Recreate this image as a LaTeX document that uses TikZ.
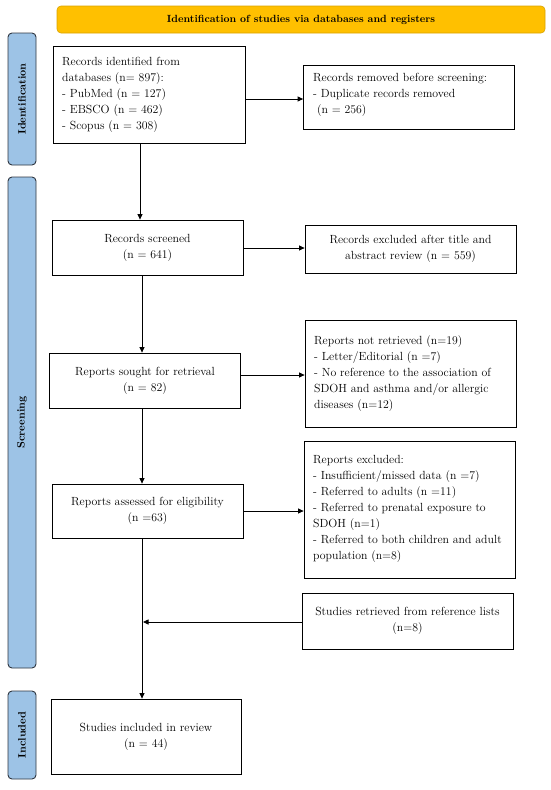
\documentclass[tikz,border=0pt]{standalone}
\usetikzlibrary{arrows.meta}
\definecolor{gold}{HTML}{FFC000}
\definecolor{goldline}{HTML}{D9A300}
\definecolor{sideblue}{HTML}{9DC3E6}
\definecolor{sideline}{HTML}{2F3640}
\begin{document}
\begin{tikzpicture}[x=1pt,y=-1pt,
  box/.style={draw=black,line width=0.8pt,fill=white,inner sep=0pt,
    font=\fontsize{11.8}{16}\selectfont},
  btext/.style={anchor=west,font=\fontsize{11.8}{16}\selectfont,align=left,inner sep=0pt},
  sidebar/.style={draw=sideline,line width=0.9pt,fill=sideblue,rounded corners=4pt,inner sep=0pt},
  sidetext/.style={rotate=90,font=\fontsize{10.7}{12}\selectfont\bfseries},
  arr/.style={-{Triangle[length=5.5pt,width=5pt]},line width=0.8pt}]
\useasboundingbox (0,0) rectangle (550,790);
% banner
\node[draw=goldline,line width=0.6pt,fill=gold,rounded corners=4pt,minimum width=488pt,minimum height=27pt,
  font=\fontsize{10.4}{12}\selectfont\bfseries] (ban) at (301,19.5) {Identification of studies via databases and registers};
% side bars
\node[sidebar,minimum width=28pt,minimum height=132pt] (sid) at (22,99) {};
\node[sidetext] (sidt) at (sid.center) {Identification};
\node[sidebar,minimum width=28pt,minimum height=491pt] (sscr) at (22,422.5) {};
\node[sidetext] (sscrt) at (sscr.center) {Screening};
\node[sidebar,minimum width=28pt,minimum height=88pt] (sinc) at (22,735) {};
\node[sidetext] (sinct) at (sinc.center) {Included};
% boxes
\node[box,minimum width=192pt,minimum height=97pt] (b1) at (149,94.5) {};
\node[btext] (b1t) at (62,94.5)
  {Records identified from\\databases (n= 897):\\- PubMed (n = 127)\\- EBSCO (n = 462)\\- Scopus (n = 308)};
\node[box,minimum width=211pt,minimum height=64pt] (b2) at (409,97.5) {};
\node[btext] (b2t) at (313,95)
  {Records removed before screening:\\- Duplicate records removed\\\ (n = 256)};
\node[box,minimum width=191pt,minimum height=55pt,align=center] (b3) at (147.5,247.5)
  {Records screened\\(n = 641)};
\node[box,minimum width=211pt,minimum height=48pt,align=center] (b4) at (410.5,249)
  {Records excluded after title and\\abstract review (n = 559)};
\node[box,minimum width=191pt,minimum height=55pt,align=center] (b5) at (145,380.5)
  {Reports sought for retrieval\\(n = 82)};
\node[box,minimum width=211pt,minimum height=107pt] (b6) at (410.5,373.5) {};
\node[btext] (b6t) at (314,374)
  {Reports not retrieved (n=19)\\- Letter/Editorial (n =7)\\- No reference to the association of\\SDOH and asthma and/or allergic\\diseases (n=12)};
\node[box,minimum width=191pt,minimum height=54pt,align=center] (b7) at (147.5,511)
  {Reports assessed for eligibility\\(n =63)};
\node[box,minimum width=211pt,minimum height=137pt] (b8) at (409.5,509.5) {};
\node[btext] (b8t) at (313,509)
  {Reports excluded:\\- Insufficient/missed data (n =7)\\- Referred to adults (n =11)\\- Referred to prenatal exposure to\\SDOH (n=1)\\- Referred to both children and adult\\population (n=8)};
\node[box,minimum width=211pt,minimum height=56pt,align=center] (b10) at (407.5,621)
  {Studies retrieved from reference lists\\(n=8)};
\node[box,minimum width=190pt,minimum height=75pt,align=center] (b9) at (146,736.5)
  {Studies included in review\\(n = 44)};
% connectors
\draw[arr] (b1.east |- 0,99) -- (b2.west |- 0,99);
\draw[arr] (b1.south -| 140,0) -- (b3.north -| 140,0);
\draw[arr] (b3.east |- 0,248) -- (b4.west |- 0,248);
\draw[arr] (b3.south -| 142,0) -- (b5.north -| 142,0);
\draw[arr] (b5.east |- 0,375) -- (b6.west |- 0,375);
\draw[arr] (b5.south -| 142,0) -- (b7.north -| 142,0);
\draw[arr] (b7.east |- 0,511) -- (b8.west |- 0,511);
\draw[arr] (b7.south -| 142,0) -- (b9.north -| 142,0);
\coordinate (join) at (143,622);
\draw[arr] (b10.west |- join) -- (join);
\end{tikzpicture}
\end{document}
